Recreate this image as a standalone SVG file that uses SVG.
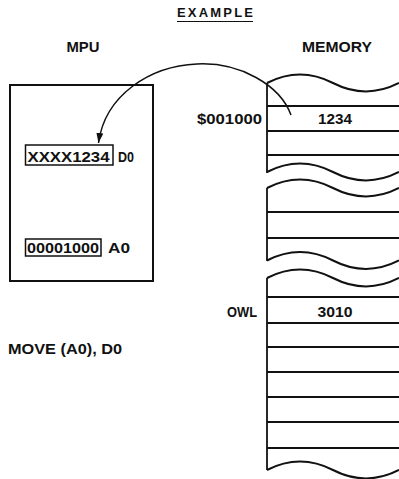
<svg xmlns="http://www.w3.org/2000/svg" width="399" height="479" viewBox="0 0 399 479">
<defs>
<style>
text{font-family:"Liberation Sans",Arial,sans-serif;font-weight:bold;fill:#111;}
.t{font-size:14px;}
.line{stroke:#111;stroke-width:1.8;fill:none;}
.wave{stroke:#111;stroke-width:2;fill:none;}
.box{stroke:#111;stroke-width:2;fill:none;}
.reg{stroke:#111;stroke-width:1.5;fill:none;}
</style>
<marker id="ah" viewBox="0 0 10 10" refX="10" refY="5" markerWidth="10" markerHeight="10" markerUnits="userSpaceOnUse" orient="auto">
<path d="M0,1.5 L10,5 L0,8.5 Z" fill="#111"/>
</marker>
<path id="wv" d="M0,0 C22,-11.3 44,-11.3 66,0 C88,11.3 110,11.3 132,0"/>
</defs>
<rect width="399" height="479" fill="#fff"/>

<g id="title">
<text x="215" y="17" text-anchor="middle" style="font-size:13px" textLength="76" lengthAdjust="spacing">EXAMPLE</text>
<line x1="177" y1="21.5" x2="253" y2="21.5" stroke="#111" stroke-width="1.2"/>
</g>
<g id="mpu-label"><text class="t" x="83" y="52" text-anchor="middle" textLength="33" lengthAdjust="spacingAndGlyphs">MPU</text></g>
<g id="memory-label"><text class="t" x="337" y="52" text-anchor="middle" textLength="70" lengthAdjust="spacingAndGlyphs">MEMORY</text></g>

<g id="mpu">
<rect class="box" x="10" y="85" width="143" height="196"/>
</g>
<g id="d0">
<rect class="reg" x="25.5" y="145" width="87.5" height="20"/>
<text style="font-size:15px" x="27.5" y="161.5" textLength="82" lengthAdjust="spacingAndGlyphs">XXXX1234</text>
<text style="font-size:15px" x="118" y="161.5" textLength="16" lengthAdjust="spacingAndGlyphs">D0</text>
</g>
<g id="a0">
<rect class="reg" x="25.5" y="239" width="75.5" height="17"/>
<text style="font-size:15px" x="27" y="253" textLength="72" lengthAdjust="spacingAndGlyphs">00001000</text>
<text style="font-size:15px" x="108" y="253" textLength="22" lengthAdjust="spacingAndGlyphs">A0</text>
</g>
<g id="instruction">
<text style="font-size:15px" x="8" y="354" textLength="114" lengthAdjust="spacingAndGlyphs">MOVE (A0), D0</text>
</g>

<g id="memory-section-1">
<use href="#wv" class="wave" x="267" y="83"/>
<line class="line" x1="267" y1="83" x2="267" y2="173" stroke-width="2.2"/>
<line class="line" x1="267" y1="106" x2="399" y2="106"/>
<line class="line" x1="267" y1="131" x2="399" y2="131"/>
<line class="line" x1="267" y1="155" x2="399" y2="155"/>
<use href="#wv" class="wave" x="267" y="172"/>
<text style="font-size:14px" x="335" y="123.5" text-anchor="middle" textLength="34" lengthAdjust="spacingAndGlyphs">1234</text>
</g>
<g id="addr-001000"><text style="font-size:15px" x="262" y="123.5" text-anchor="end" textLength="65" lengthAdjust="spacingAndGlyphs">$001000</text></g>

<g id="memory-section-2">
<use href="#wv" class="wave" x="267" y="188"/>
<line class="line" x1="267" y1="188" x2="267" y2="261" stroke-width="2.2"/>
<line class="line" x1="267" y1="212" x2="399" y2="212"/>
<line class="line" x1="267" y1="238" x2="399" y2="238"/>
<use href="#wv" class="wave" x="267" y="260.5"/>
</g>

<g id="memory-section-3">
<use href="#wv" class="wave" x="267" y="278"/>
<line class="line" x1="267" y1="278" x2="267" y2="470" stroke-width="2.2"/>
<line class="line" x1="267" y1="297" x2="399" y2="297"/>
<line class="line" x1="267" y1="323" x2="399" y2="323"/>
<line class="line" x1="267" y1="347" x2="399" y2="347"/>
<line class="line" x1="267" y1="372" x2="399" y2="372"/>
<line class="line" x1="267" y1="397" x2="399" y2="397"/>
<line class="line" x1="267" y1="422" x2="399" y2="422"/>
<line class="line" x1="267" y1="448" x2="399" y2="448"/>
<use href="#wv" class="wave" x="267" y="470"/>
<text style="font-size:14px" x="335" y="317" text-anchor="middle" textLength="35" lengthAdjust="spacingAndGlyphs">3010</text>
</g>
<g id="addr-owl"><text style="font-size:15px" x="257" y="317" text-anchor="end" textLength="30" lengthAdjust="spacingAndGlyphs">OWL</text></g>

<g id="connectors">
<path d="M291,115 C280,85 240,62 197,64 C150,66 105,95 98.5,143" fill="none" stroke="#111" stroke-width="1.5" marker-end="url(#ah)"/>
</g>
</svg>
